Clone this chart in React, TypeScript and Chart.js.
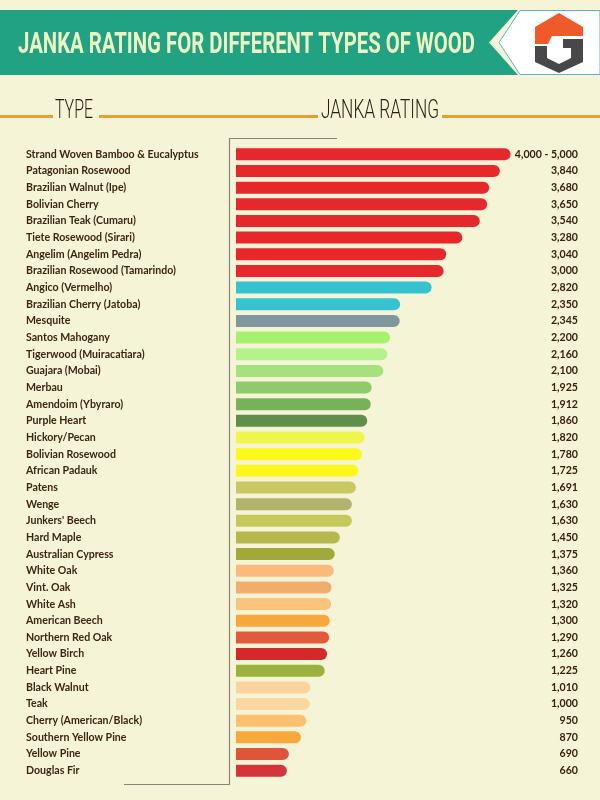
import React, { useEffect, useRef } from 'react';
import { Chart, registerables } from 'chart.js';

Chart.register(...registerables);

const TITLE = 'JANKA RATING FOR DIFFERENT TYPES OF WOOD';
const HEADER_TYPE = 'TYPE';
const HEADER_RATING = 'JANKA RATING';

const woodTypes = [
  'Strand Woven Bamboo & Eucalyptus',
  'Patagonian Rosewood',
  'Brazilian Walnut (Ipe)',
  'Bolivian Cherry',
  'Brazilian Teak (Cumaru)',
  'Tiete Rosewood (Sirari)',
  'Angelim (Angelim Pedra)',
  'Brazilian Rosewood (Tamarindo)',
  'Angico (Vermelho)',
  'Brazilian Cherry (Jatoba)',
  'Mesquite',
  'Santos Mahogany',
  'Tigerwood (Muiracatiara)',
  'Guajara (Mobai)',
  'Merbau',
  'Amendoim (Ybyraro)',
  'Purple Heart',
  'Hickory/Pecan',
  'Bolivian Rosewood',
  'African Padauk',
  'Patens',
  'Wenge',
  "Junkers' Beech",
  'Hard Maple',
  'Australian Cypress',
  'White Oak',
  'Vint. Oak',
  'White Ash',
  'American Beech',
  'Northern Red Oak',
  'Yellow Birch',
  'Heart Pine',
  'Black Walnut',
  'Teak',
  'Cherry (American/Black)',
  'Southern Yellow Pine',
  'Yellow Pine',
  'Douglas Fir',
];

const ratings = [
  4000, 3840, 3680, 3650, 3540, 3280, 3040, 3000, 2820, 2350, 2345, 2200, 2160,
  2100, 1925, 1912, 1860, 1820, 1780, 1725, 1691, 1630, 1630, 1450, 1375, 1360,
  1325, 1320, 1300, 1290, 1260, 1225, 1010, 1000, 950, 870, 690, 660,
];

const ratingLabels = [
  '4,000 - 5,000', '3,840', '3,680', '3,650', '3,540', '3,280', '3,040', '3,000',
  '2,820', '2,350', '2,345', '2,200', '2,160', '2,100', '1,925', '1,912', '1,860',
  '1,820', '1,780', '1,725', '1,691', '1,630', '1,630', '1,450', '1,375', '1,360',
  '1,325', '1,320', '1,300', '1,290', '1,260', '1,225', '1,010', '1,000', '950',
  '870', '690', '660',
];

const barColors = [
  '#e6282c', '#e6282c', '#e6282c', '#e6282c', '#e6282c', '#e6282c', '#e6282c', '#e6282c',
  '#35c3d2', '#35c3d2', '#7f989d', '#a6f26c', '#b5f28c', '#a5e27c', '#8fca6c', '#77b25b',
  '#5f8f49', '#eef54c', '#fbf81c', '#fdf61a', '#c9c862', '#b0b46c', '#c6c85c', '#b5b84c',
  '#a2a93c', '#f9ba7c', '#f0ae6e', '#fac47c', '#f9a63c', '#e25a3c', '#d4282c', '#9cb23c',
  '#fbd39c', '#fbd6a2', '#fbc070', '#f9a83c', '#e0553a', '#d4343a',
];

const X_MIN = -100;
const X_MAX = 3931;

function fitText(ctx: CanvasRenderingContext2D, text: string, x: number, y: number, width: number) {
  const w = ctx.measureText(text).width;
  ctx.save();
  ctx.translate(x, y);
  ctx.scale(width / w, 1);
  ctx.fillText(text, 0, 0);
  ctx.restore();
}

const decorPlugin = {
  id: 'decor',
  beforeDraw(chart: any) {
    const ctx: CanvasRenderingContext2D = chart.ctx;
    ctx.save();
    // background
    ctx.fillStyle = '#f6f4d6';
    ctx.fillRect(0, 0, chart.width, chart.height);

    // banner
    ctx.fillStyle = '#21a282';
    ctx.beginPath();
    ctx.moveTo(0, 10);
    ctx.lineTo(518, 10);
    ctx.lineTo(489, 42.5);
    ctx.lineTo(518, 75);
    ctx.lineTo(0, 75);
    ctx.closePath();
    ctx.fill();

    // title
    ctx.fillStyle = '#eef5c4';
    ctx.font = 'bold 30px Roboto';
    ctx.textBaseline = 'alphabetic';
    ctx.textAlign = 'left';
    fitText(ctx, TITLE, 18, 53, 457);

    // logo box
    ctx.fillStyle = '#ffffff';
    ctx.strokeStyle = '#5aaee0';
    ctx.lineWidth = 1;
    ctx.beginPath();
    ctx.moveTo(520, 10.5);
    ctx.lineTo(600, 10.5);
    ctx.lineTo(600, 74.5);
    ctx.lineTo(520, 74.5);
    ctx.lineTo(499, 42.5);
    ctx.closePath();
    ctx.fill();
    ctx.stroke();

    // logo roof
    ctx.fillStyle = '#ee5a2a';
    ctx.beginPath();
    ctx.moveTo(535, 27);
    ctx.lineTo(559, 13);
    ctx.lineTo(583, 27);
    ctx.lineTo(583, 36);
    ctx.lineTo(552, 36);
    ctx.lineTo(548, 44);
    ctx.lineTo(535, 44);
    ctx.closePath();
    ctx.fill();

    // logo G
    ctx.fillStyle = '#48484a';
    ctx.beginPath();
    ctx.moveTo(535, 46);
    ctx.lineTo(547, 46);
    ctx.lineTo(547, 58);
    ctx.lineTo(559, 64);
    ctx.lineTo(571, 58);
    ctx.lineTo(571, 48);
    ctx.lineTo(563, 48);
    ctx.lineTo(563, 39);
    ctx.lineTo(583, 39);
    ctx.lineTo(583, 62);
    ctx.lineTo(559, 73);
    ctx.lineTo(535, 62);
    ctx.closePath();
    ctx.fill();

    // header lines
    ctx.strokeStyle = '#e2a130';
    ctx.lineWidth = 3;
    ctx.beginPath();
    ctx.moveTo(0, 116.5); ctx.lineTo(53, 116.5);
    ctx.moveTo(99, 116.5); ctx.lineTo(318, 116.5);
    ctx.moveTo(442, 116.5); ctx.lineTo(600, 116.5);
    ctx.stroke();

    // header text
    ctx.fillStyle = '#2b1d14';
    ctx.font = '300 25px Roboto';
    fitText(ctx, HEADER_TYPE, 55, 118, 38);
    fitText(ctx, HEADER_RATING, 321, 118, 118);

    // axis frame lines
    ctx.strokeStyle = '#85857a';
    ctx.lineWidth = 1.2;
    ctx.beginPath();
    ctx.moveTo(337, 138.5);
    ctx.lineTo(229.5, 138.5);
    ctx.lineTo(229.5, 784.5);
    ctx.lineTo(124, 784.5);
    ctx.stroke();

    ctx.restore();
  },
};

export default function App() {
  const ref = useRef<HTMLCanvasElement | null>(null);

  useEffect(() => {
    document.body.style.margin = '0';
    const canvas = ref.current;
    if (!canvas) return;
    const labelFont = { family: 'Lato', weight: 'bold' as const, size: 10.6 };
    const chart = new Chart(canvas, {
      type: 'bar',
      data: {
        labels: woodTypes,
        datasets: [
          {
            data: ratings,
            backgroundColor: barColors,
            base: X_MIN,
            barPercentage: 1,
            categoryPercentage: 0.72,
            borderRadius: 6,
            borderSkipped: 'start',
            clip: false,
            yAxisID: 'y',
          } as any,
        ],
      },
      plugins: [decorPlugin],
      options: {
        indexAxis: 'y',
        responsive: false,
        animation: false,
        layout: { padding: { left: 26, right: 22, top: 146, bottom: 21 } },
        plugins: {
          legend: { display: false },
          tooltip: { enabled: false },
          title: { display: false },
        },
        scales: {
          x: { type: 'linear', display: false, min: X_MIN, max: X_MAX },
          y: {
            type: 'category',
            position: 'left',
            offset: true,
            grid: { display: false },
            border: { display: false },
            ticks: {
              crossAlign: 'far',
              autoSkip: false,
              padding: 0,
              color: '#3d2516',
              font: labelFont,
            },
            afterFit(s: any) {
              s.width = 210;
            },
          },
          y2: {
            type: 'category',
            position: 'right',
            labels: ratingLabels,
            offset: true,
            grid: { display: false },
            border: { display: false },
            ticks: {
              crossAlign: 'far',
              autoSkip: false,
              padding: 0,
              color: '#3b2012',
              font: labelFont,
            },
            afterFit(s: any) {
              s.width = 72;
            },
          },
        } as any,
      },
    });
    return () => chart.destroy();
  }, []);

  return <canvas ref={ref} width={600} height={800} style={{ display: 'block' }} />;
}
